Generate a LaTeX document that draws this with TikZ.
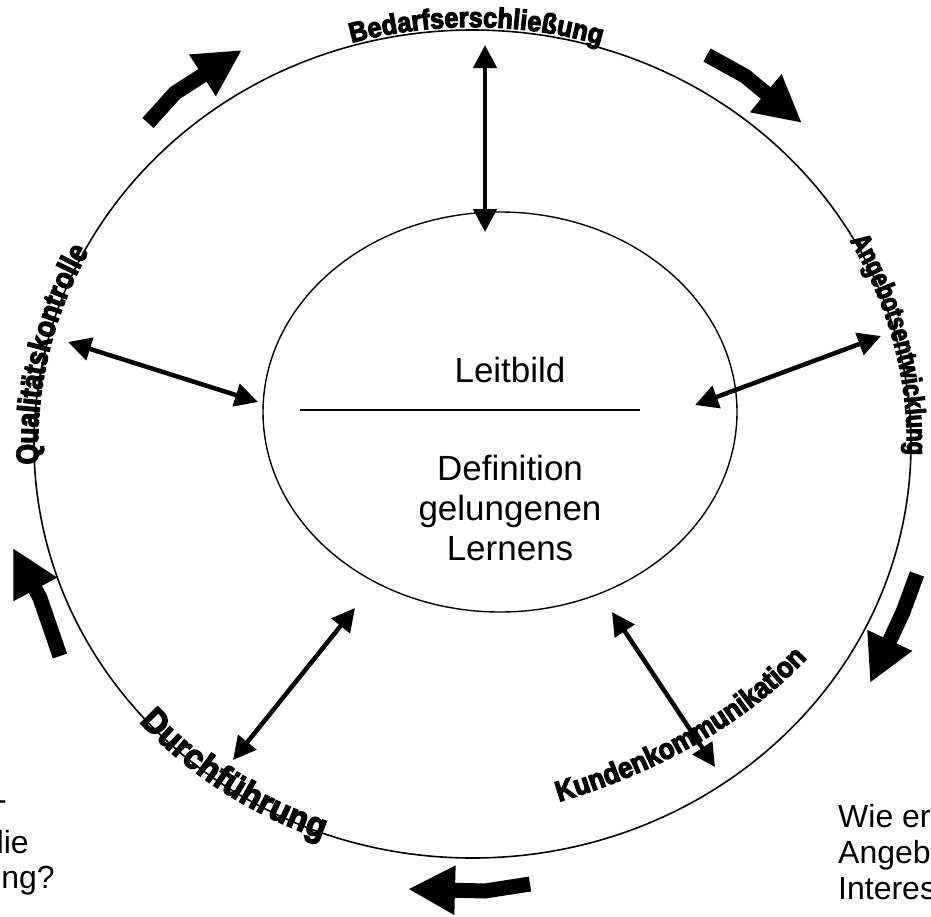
\documentclass[tikz,border=0pt]{standalone}
\usepackage{fontspec}
\setmainfont{Liberation Sans}
\newfontfamily\topfont[FakeStretch=0.9,FakeBold=4]{Liberation Sans Bold}
\newfontfamily\rightfont[FakeStretch=0.78,FakeBold=4]{Liberation Sans Bold}
\newfontfamily\leftfont[FakeStretch=0.85,FakeBold=4]{Liberation Sans Bold}
\newfontfamily\durchfont[FakeStretch=0.93,FakeBold=4]{Liberation Sans Bold}
\newfontfamily\kundefont[FakeStretch=0.9,FakeBold=4]{Liberation Sans Bold}
\usetikzlibrary{arrows.meta,decorations.text,shapes.geometric}
\begin{document}
\begin{tikzpicture}[x=1pt,y=1pt,
  dbl/.style={line width=4.5pt, {Triangle[length=23pt,width=23pt]}-{Triangle[length=23pt,width=23pt]}},
  blk/.style={line width=15pt, line join=miter, -{Triangle[length=47pt,width=46pt]}},
  inner/.style={font=\fontsize{35}{40}\selectfont, align=center},
  side/.style={font=\fontsize{32}{36}\selectfont, inner sep=0pt},
]
\useasboundingbox (0,0) rectangle (931,-916);
\clip (0,0) rectangle (931,-916);

% outer ring and inner circle
\coordinate (C) at (472.5,-444);
\draw[line width=1.6pt] (C) ellipse[x radius=438.5pt, y radius=414pt];
\node (core) [draw, line width=1.4pt, ellipse, minimum width=474pt, minimum height=400pt, inner sep=0pt] at (500,-412) {};

% centre texts
\node (leit) [inner] at (510,-370) {Leitbild};
\coordinate (hlA) at (300,-410);
\coordinate (hlB) at (640,-410);
\draw[line width=1.2pt] (hlA) -- (hlB);
\node (def) [inner] at (510,-508) {Definition\\gelungenen\\Lernens};

% double-headed arrows
\coordinate (tA) at (485,-45);  \coordinate (tB) at (485,-232);
\coordinate (rA) at (881,-336); \coordinate (rB) at (695,-405);
\coordinate (lA) at (68,-342);  \coordinate (lB) at (258,-402);
\coordinate (blA) at (355,-608); \coordinate (blB) at (233,-760);
\coordinate (brA) at (612,-612); \coordinate (brB) at (715,-767);
\draw[dbl] (tA) -- (tB);
\draw[dbl] (rA) -- (rB);
\draw[dbl] (lA) -- (lB);
\draw[dbl] (blA) -- (blB);
\draw[dbl] (brA) -- (brB);

% block arrows around the cycle
\coordinate (b1a) at (148,-123); \coordinate (b1b) at (175,-93);  \coordinate (b1c) at (242,-50);
\coordinate (b2a) at (707,-55);  \coordinate (b2b) at (745,-76);  \coordinate (b2c) at (802,-123);
\coordinate (b3a) at (917,-574); \coordinate (b3b) at (903,-612); \coordinate (b3c) at (870,-683);
\coordinate (b4a) at (530,-884); \coordinate (b4b) at (485,-891); \coordinate (b4c) at (408,-889);
\coordinate (b5a) at (60,-656);  \coordinate (b5b) at (40,-598);  \coordinate (b5c) at (13,-548);
\draw[blk] (b1a) -- (b1b) -- (b1c);
\draw[blk] (b2a) -- (b2b) -- (b2c);
\draw[blk] (b3a) -- (b3b) -- (b3c);
\draw[blk] (b4a) -- (b4b) -- (b4c);
\draw[blk] (b5a) -- (b5b) -- (b5c);

% curved labels
\path[decorate, decoration={text along path, text align=center, raise=3pt,
  text={|\topfont\fontsize{28}{28}\selectfont|Bedarfserschließung}}]
  (C) ++(118:438.5pt and 414pt) arc[start angle=118, end angle=61, x radius=438.5pt, y radius=414pt];
\path[decorate, decoration={text along path, text align=center, raise=-4pt,
  text={|\rightfont\fontsize{28}{28}\selectfont|Angebotsentwicklung}}]
  (C) ++(42:438.5pt and 414pt) arc[start angle=42, end angle=-14, x radius=438.5pt, y radius=414pt];
\path[decorate, decoration={text along path, text align=center, raise=-4pt,
  text={|\leftfont\fontsize{31}{31}\selectfont|Qualitätskontrolle}}]
  (C) ++(198:438.5pt and 414pt) arc[start angle=198, end angle=137, x radius=438.5pt, y radius=414pt];
\path[decorate, decoration={text along path, text align=center, raise=-6pt,
  text={|\durchfont\fontsize{35}{35}\selectfont|Durchführung}}]
  (C) ++(205:438.5pt and 414pt) arc[start angle=205, end angle=266, x radius=438.5pt, y radius=414pt];
\coordinate (kA) at (548,-805);
\coordinate (kB) at (815,-650);
\path[decorate, decoration={text along path, text align=center,
  text={|\kundefont\fontsize{29}{29}\selectfont|Kundenkommunikation}}]
  (kA) .. controls (645,-778) and (745,-728) .. (kB);

% cut-off side texts
\node (q0) [side, anchor=base east] at (7,-810) {-};
\node (q1) [side, anchor=base east] at (29,-853) {die};
\node (q2) [side, anchor=base east] at (55,-888) {ng?};
\node (w1) [side, anchor=base west] at (838,-827) {Wie er};
\node (w2) [side, anchor=base west] at (838,-863) {Angeb};
\node (w3) [side, anchor=base west] at (838,-899) {Interess};
\end{tikzpicture}
\end{document}
